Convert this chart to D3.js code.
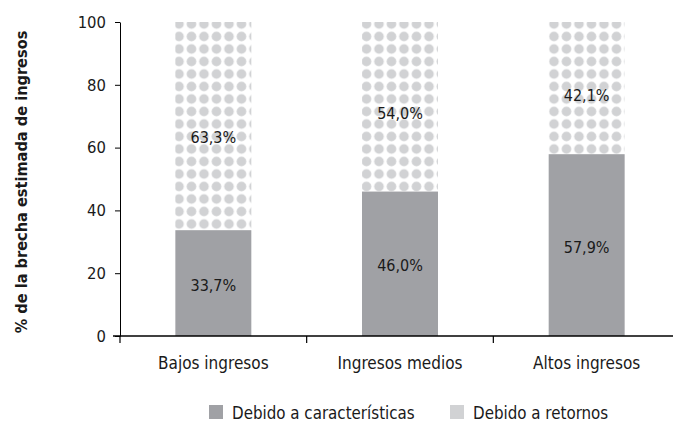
<!DOCTYPE html>
<html><head><meta charset="utf-8">
<script src="https://cdn.jsdelivr.net/npm/d3@7"></script>
<style>
body{margin:0;background:#fff;}
text{font-family:"Liberation Sans Narrow","DejaVu Sans Condensed","Roboto",sans-serif;fill:#1a1a1a;}
</style></head><body>
<svg id="c" width="673" height="423"></svg>
<script>
const categories = ["Bajos ingresos","Ingresos medios","Altos ingresos"];
const caracteristicas = [33.7, 46.0, 57.9];
const retornos = [63.3, 54.0, 42.1];
const yTicks = [0,20,40,60,80,100];
const seriesNames = ["Debido a características","Debido a retornos"];
const yTitle = "% de la brecha estimada de ingresos";

const svg = d3.select("#c");
const W=673,H=423;
const m={left:120,top:22,bottom:336,right:680};
const fmt = v => d3.format(".1f")(v).replace(".",",")+"%";

const x = d3.scaleBand().domain(categories).range([m.left,m.right]).paddingInner(0.593).paddingOuter(0.2965);
const y = d3.scaleLinear().domain([0,100]).range([m.bottom,m.top]);

const defs = svg.append("defs");
const pat = defs.append("pattern").attr("id","dots").attr("patternUnits","userSpaceOnUse")
  .attr("width",12.5).attr("height",12.5).attr("x",179-6.25).attr("y",24-6.25);
pat.append("rect").attr("width",12.5).attr("height",12.5).attr("fill","#fff");
pat.append("circle").attr("cx",6.25).attr("cy",6.25).attr("r",4.8).attr("fill","#d1d2d4");

const data = categories.map((c,i)=>({c,a:caracteristicas[i],b:retornos[i]}));

svg.append("g").selectAll("rect").data(data).join("rect")
  .attr("x",d=>x(d.c)).attr("width",x.bandwidth())
  .attr("y",y(100)).attr("height",d=>y(d.a)-y(100))
  .attr("fill","url(#dots)");
svg.append("g").selectAll("rect").data(data).join("rect")
  .attr("x",d=>x(d.c)).attr("width",x.bandwidth())
  .attr("y",d=>y(d.a)).attr("height",d=>y(0)-y(d.a))
  .attr("fill","#a0a1a5");

const lab = svg.append("g").attr("font-size",16).attr("text-anchor","middle");
lab.selectAll("text.a").data(data).join("text").attr("class","a")
  .attr("x",d=>x(d.c)+x.bandwidth()/2).attr("y",d=>y(d.a/2-0.6)).attr("dy","0.36em").text(d=>fmt(d.a));
lab.selectAll("text.b").data(data).join("text").attr("class","b")
  .attr("x",d=>x(d.c)+x.bandwidth()/2).attr("y",d=>y(d.a+d.b/2-2.2)).attr("dy","0.36em").text(d=>fmt(d.b));

const ya = svg.append("g").attr("transform",`translate(${m.left},0)`)
  .call(d3.axisLeft(y).tickValues(yTicks).tickSize(5).tickPadding(9).tickSizeOuter(0));
ya.select(".domain").attr("stroke","#000").attr("stroke-width",1);
ya.selectAll(".tick line").attr("stroke","#000");
ya.selectAll("text").attr("font-size",16.5).attr("font-family",null).style("fill","#1a1a1a");

const xa = svg.append("g").attr("transform",`translate(0,${m.bottom})`);
xa.append("line").attr("x1",m.left-7).attr("x2",W).attr("stroke","#000").attr("stroke-width",1.6);
const bounds = [m.left, ...categories.slice(1).map(c=>x(c)-x.step()*x.paddingInner()/2)];
xa.selectAll("line.t").data(bounds).join("line").attr("class","t")
  .attr("x1",d=>d).attr("x2",d=>d).attr("y1",0).attr("y2",7).attr("stroke","#000").attr("stroke-width",1.2);
xa.selectAll("text").data(categories).join("text")
  .attr("x",c=>x(c)+x.bandwidth()/2).attr("y",33).attr("text-anchor","middle").attr("font-size",17).text(c=>c);

svg.append("text").attr("transform",`translate(27,${(m.top+m.bottom)/2+3}) rotate(-90)`)
  .attr("text-anchor","middle").attr("font-size",16.2).attr("font-weight","bold").text(yTitle);

const lg = svg.append("g");
const items = [{n:seriesNames[0],f:"#a0a1a5",x:209},{n:seriesNames[1],f:"#d1d2d4",x:450}];
lg.selectAll("rect").data(items).join("rect").attr("x",d=>d.x).attr("y",405).attr("width",14).attr("height",14).attr("fill",d=>d.f);
lg.selectAll("text").data(items).join("text").attr("x",d=>d.x+23).attr("y",419).attr("font-size",16.8).text(d=>d.n);
</script></body></html>
